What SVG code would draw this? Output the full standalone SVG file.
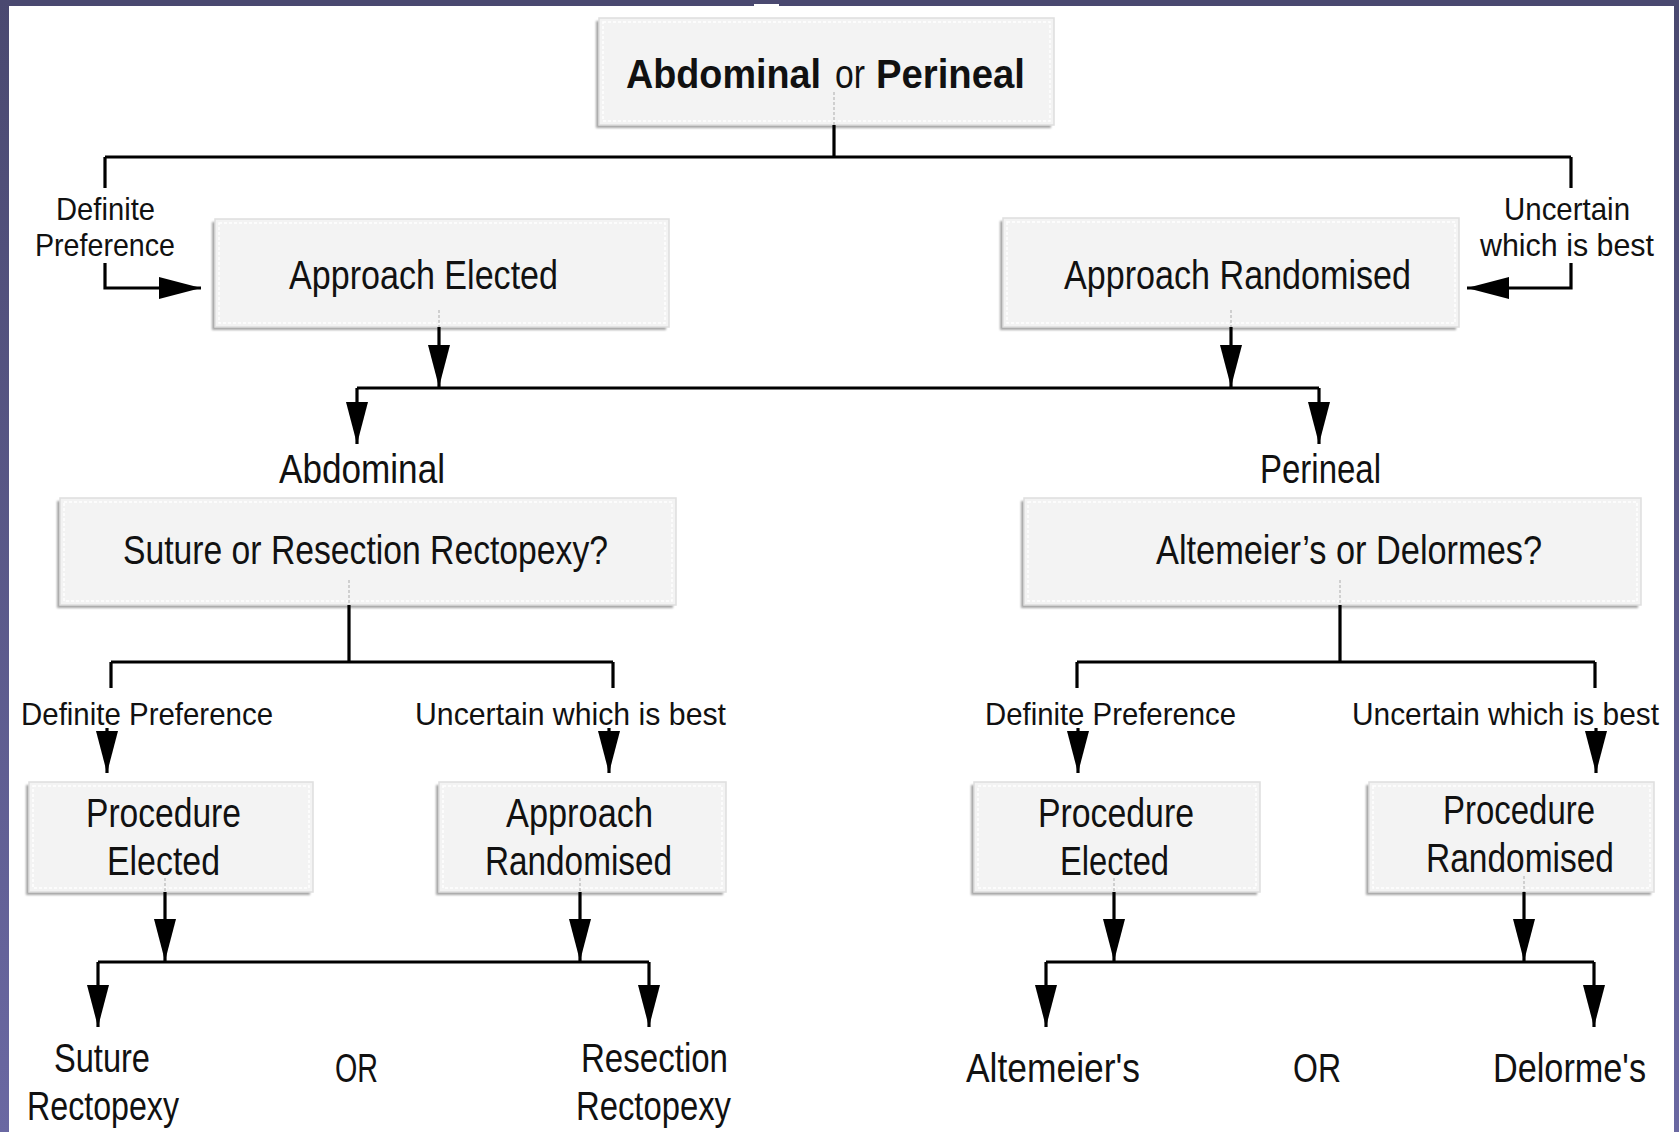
<svg xmlns="http://www.w3.org/2000/svg" width="1679" height="1132" viewBox="0 0 1679 1132">
<defs>
<linearGradient id="band" x1="0" y1="0" x2="0" y2="1">
<stop offset="0" stop-color="#4a4970"/>
<stop offset="1" stop-color="#6a68a2"/>
</linearGradient>
<filter id="blur" x="-5%" y="-5%" width="110%" height="110%"><feGaussianBlur stdDeviation="1.2"/></filter>
<marker id="ah" markerUnits="userSpaceOnUse" markerWidth="42" markerHeight="22" viewBox="0 0 42 22" refX="42" refY="11" orient="auto">
<path d="M0,0 L42,11 L0,22 z" fill="#000"/>
</marker>
<style>
.sh{fill:#a6a6a6;filter:url(#blur)}
.bx{fill:#f3f3f3;stroke:#dedede;stroke-width:1.5}
.in{fill:none;stroke:#ffffff;stroke-width:1.5;stroke-dasharray:3 2}
.t{font-family:"Liberation Sans Narrow","Liberation Sans",Arial,sans-serif;fill:#111;font-size:40px}
.b{font-weight:bold}
.s{font-size:32px}
.c{fill:none;stroke:#000;stroke-width:3.2}
.a{fill:none;stroke:#000;stroke-width:3.2;marker-end:url(#ah)}
.f{fill:none;stroke:#b8b8b8;stroke-width:1.2;stroke-dasharray:3 2}
</style>
</defs>
<rect x="0" y="0" width="1679" height="1132" fill="#ffffff"/>
<rect x="0" y="0" width="1679" height="6" fill="#4a4970"/>
<rect x="754" y="4" width="25" height="3" fill="#ffffff"/>
<rect x="0" y="0" width="9" height="1132" fill="url(#band)"/>
<rect x="1674" y="0" width="5" height="1132" fill="url(#band)"/>

<g id="n-top">
<rect class="sh" x="596" y="21" width="455" height="107"/>
<rect class="bx" x="599" y="18" width="455" height="107"/>
<rect class="in" x="603" y="22" width="447" height="99"/>
<text class="t b" x="626" y="88" textLength="195" lengthAdjust="spacingAndGlyphs">Abdominal</text>
<text class="t" x="835" y="88" textLength="30" lengthAdjust="spacingAndGlyphs">or</text>
<text class="t b" x="876" y="88" textLength="149" lengthAdjust="spacingAndGlyphs">Perineal</text>
</g>

<g id="n-def1">
<text class="t s" x="56" y="220" textLength="99" lengthAdjust="spacingAndGlyphs">Definite</text>
<text class="t s" x="35" y="256" textLength="140" lengthAdjust="spacingAndGlyphs">Preference</text>
</g>
<g id="n-unc1">
<text class="t s" x="1504" y="220" textLength="126" lengthAdjust="spacingAndGlyphs">Uncertain</text>
<text class="t s" x="1480" y="256" textLength="174" lengthAdjust="spacingAndGlyphs">which is best</text>
</g>

<g id="n-approach-elected">
<rect class="sh" x="212" y="222" width="454" height="108"/>
<rect class="bx" x="215" y="219" width="454" height="108"/>
<rect class="in" x="219" y="223" width="446" height="100"/>
<text class="t" x="289" y="289" textLength="269" lengthAdjust="spacingAndGlyphs">Approach Elected</text>
</g>

<g id="n-approach-randomised">
<rect class="sh" x="1000" y="221" width="456" height="109"/>
<rect class="bx" x="1003" y="218" width="456" height="109"/>
<rect class="in" x="1007" y="222" width="448" height="101"/>
<text class="t" x="1064" y="289" textLength="347" lengthAdjust="spacingAndGlyphs">Approach Randomised</text>
</g>

<g id="n-abdominal">
<text class="t" x="279" y="483" textLength="166" lengthAdjust="spacingAndGlyphs">Abdominal</text>
</g>
<g id="n-perineal">
<text class="t" x="1260" y="483" textLength="121" lengthAdjust="spacingAndGlyphs">Perineal</text>
</g>

<g id="n-suture-or-resection">
<rect class="sh" x="57" y="501" width="616" height="107"/>
<rect class="bx" x="60" y="498" width="616" height="107"/>
<rect class="in" x="64" y="502" width="608" height="99"/>
<text class="t" x="123" y="564" textLength="485" lengthAdjust="spacingAndGlyphs">Suture or Resection Rectopexy?</text>
</g>

<g id="n-altemeier-or-delormes">
<rect class="sh" x="1021" y="501" width="617" height="107"/>
<rect class="bx" x="1024" y="498" width="617" height="107"/>
<rect class="in" x="1028" y="502" width="609" height="99"/>
<text class="t" x="1156" y="564" textLength="386" lengthAdjust="spacingAndGlyphs">Altemeier’s or Delormes?</text>
</g>

<g id="n-def2">
<text class="t s" x="21" y="725" textLength="252" lengthAdjust="spacingAndGlyphs">Definite Preference</text>
</g>
<g id="n-unc2">
<text class="t s" x="415" y="725" textLength="311" lengthAdjust="spacingAndGlyphs">Uncertain which is best</text>
</g>
<g id="n-def3">
<text class="t s" x="985" y="725" textLength="251" lengthAdjust="spacingAndGlyphs">Definite Preference</text>
</g>
<g id="n-unc3">
<text class="t s" x="1352" y="725" textLength="307" lengthAdjust="spacingAndGlyphs">Uncertain which is best</text>
</g>

<g id="n-procedure-elected-l">
<rect class="sh" x="26" y="785" width="284" height="110"/>
<rect class="bx" x="29" y="782" width="284" height="110"/>
<rect class="in" x="33" y="786" width="276" height="102"/>
<text class="t" x="86" y="827" textLength="155" lengthAdjust="spacingAndGlyphs">Procedure</text>
<text class="t" x="107" y="875" textLength="113" lengthAdjust="spacingAndGlyphs">Elected</text>
</g>

<g id="n-approach-randomised-l">
<rect class="sh" x="436" y="785" width="287" height="110"/>
<rect class="bx" x="439" y="782" width="287" height="110"/>
<rect class="in" x="443" y="786" width="279" height="102"/>
<text class="t" x="506" y="827" textLength="147" lengthAdjust="spacingAndGlyphs">Approach</text>
<text class="t" x="485" y="875" textLength="187" lengthAdjust="spacingAndGlyphs">Randomised</text>
</g>

<g id="n-procedure-elected-r">
<rect class="sh" x="971" y="785" width="286" height="110"/>
<rect class="bx" x="974" y="782" width="286" height="110"/>
<rect class="in" x="978" y="786" width="278" height="102"/>
<text class="t" x="1038" y="827" textLength="156" lengthAdjust="spacingAndGlyphs">Procedure</text>
<text class="t" x="1060" y="875" textLength="109" lengthAdjust="spacingAndGlyphs">Elected</text>
</g>

<g id="n-procedure-randomised">
<rect class="sh" x="1366" y="785" width="285" height="110"/>
<rect class="bx" x="1369" y="782" width="285" height="110"/>
<rect class="in" x="1373" y="786" width="277" height="102"/>
<text class="t" x="1443" y="824" textLength="152" lengthAdjust="spacingAndGlyphs">Procedure</text>
<text class="t" x="1426" y="872" textLength="188" lengthAdjust="spacingAndGlyphs">Randomised</text>
</g>

<g id="n-suture-rectopexy">
<text class="t" x="54" y="1072" textLength="96" lengthAdjust="spacingAndGlyphs">Suture</text>
<text class="t" x="27" y="1120" textLength="152" lengthAdjust="spacingAndGlyphs">Rectopexy</text>
</g>
<g id="n-or-l">
<text class="t" x="335" y="1082" textLength="43" lengthAdjust="spacingAndGlyphs">OR</text>
</g>
<g id="n-resection-rectopexy">
<text class="t" x="581" y="1072" textLength="147" lengthAdjust="spacingAndGlyphs">Resection</text>
<text class="t" x="576" y="1120" textLength="155" lengthAdjust="spacingAndGlyphs">Rectopexy</text>
</g>
<g id="n-altemeiers">
<text class="t" x="966" y="1082" textLength="174" lengthAdjust="spacingAndGlyphs">Altemeier's</text>
</g>
<g id="n-or-r">
<text class="t" x="1293" y="1082" textLength="48" lengthAdjust="spacingAndGlyphs">OR</text>
</g>
<g id="n-delormes">
<text class="t" x="1493" y="1082" textLength="153" lengthAdjust="spacingAndGlyphs">Delorme's</text>
</g>

<g id="connectors">
<path class="f" d="M834 92 V125 M439 310 V327 M1231 310 V327 M349 580 V605 M1340 580 V605 M165 878 V892 M580 878 V892 M1114 878 V892 M1524 876 V892"/>
<path class="c" d="M834 125 V157 M105 157 H1571 M105 157 V188 M1571 157 V188"/>
<path class="a" d="M105 263 V288 H201"/>
<path class="a" d="M1571 263 V288 H1467"/>
<path class="a" d="M439 327 V387"/>
<path class="a" d="M1231 327 V387"/>
<path class="c" d="M357 388 H1319"/>
<path class="a" d="M357 388 V444"/>
<path class="a" d="M1319 388 V444"/>
<path class="c" d="M349 605 V662 M111 662 H613 M111 662 V688 M613 662 V688"/>
<path class="c" d="M1340 605 V662 M1077 662 H1595 M1077 662 V688 M1595 662 V688"/>
<path class="a" d="M107 728 V773"/>
<path class="a" d="M609 728 V773"/>
<path class="a" d="M1078 728 V773"/>
<path class="a" d="M1596 728 V773"/>
<path class="a" d="M165 892 V961"/>
<path class="a" d="M580 892 V961"/>
<path class="c" d="M98 962 H649"/>
<path class="a" d="M98 962 V1027"/>
<path class="a" d="M649 962 V1027"/>
<path class="a" d="M1114 892 V961"/>
<path class="a" d="M1524 892 V961"/>
<path class="c" d="M1046 962 H1594"/>
<path class="a" d="M1046 962 V1027"/>
<path class="a" d="M1594 962 V1027"/>
</g>
</svg>
